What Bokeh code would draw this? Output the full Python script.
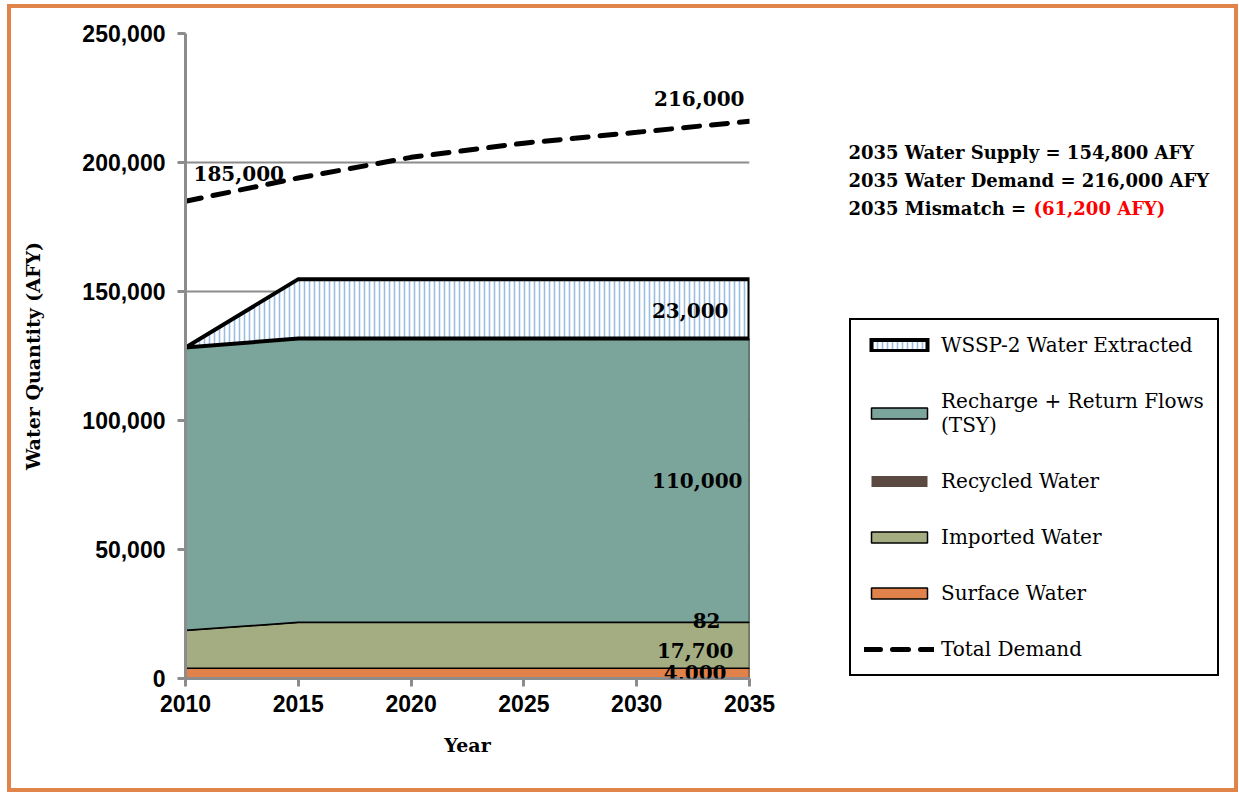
import numpy as np
from bokeh.plotting import figure
from bokeh.layouts import row
from bokeh.models import Range1d, NumeralTickFormatter, Legend, LegendItem, Label, FixedTicker
from bokeh.embed import file_html
from bokeh.resources import INLINE

# ---- data ----
years = [2010, 2015, 2020, 2025, 2030, 2035]
surface_water = [4000, 4000, 4000, 4000, 4000, 4000]
imported_water = [14600, 17700, 17700, 17700, 17700, 17700]
recycled_water = [82, 82, 82, 82, 82, 82]
recharge_tsy = [109600, 110000, 110000, 110000, 110000, 110000]
wssp2_extracted = [0, 23000, 23000, 23000, 23000, 23000]
total_demand = [185000, 194000, 202000, 207500, 211700, 216000]
y_ticks = [0, 50000, 100000, 150000, 200000, 250000]

series_names = ["Surface Water", "Imported Water", "Recycled Water",
                "Recharge + Return Flows\n(TSY)", "WSSP-2 Water Extracted"]
series_values = [surface_water, imported_water, recycled_water, recharge_tsy, wssp2_extracted]
series_colors = ["#E0824A", "#A4AC81", "#5B4A42", "#7BA59A", "white"]

# ---- layout constants (page px) ----
OX, OY = 11, 8            # inner top-left of the orange frame
SPLIT = 800               # where the right-hand panel starts
IW, IH = 1223, 780        # inner size
FL, FR, FT, FB = 185, 749, 33, 678

p = figure(width=SPLIT - OX, height=IH, x_range=Range1d(2010, 2035), y_range=Range1d(0, 250000),
           output_backend="svg", toolbar_location=None,
           min_border_left=FL - OX, min_border_right=SPLIT - FR,
           min_border_top=FT - OY, min_border_bottom=OY + IH - FB)
p.outline_line_color = None
p.background_fill_color = "white"
p.border_fill_color = "white"

# stacked areas
cum = np.zeros(len(years))
styles = {}
polys = {}
for name, vals, col in zip(series_names, series_values, series_colors):
    bottom = cum.copy()
    top = cum + np.array(vals, dtype=float)
    xs = list(years) + list(years[::-1])
    ys = list(top) + list(bottom[::-1])
    if name.startswith("WSSP"):
        st = dict(fill_color="white", line_color="black", line_width=4, line_join="miter",
                  hatch_pattern="vertical_line", hatch_color="#9DBDE0",
                  hatch_scale=5, hatch_weight=1.6)
    elif name.startswith("Recycled"):
        st = dict(fill_color=col, line_color=None)
    else:
        st = dict(fill_color=col, line_color="black", line_width=1.5)
    styles[name] = st
    polys[name] = (xs, ys)
    p.patch(xs, ys, **st)
    cum = top
supply = cum

dem_style = dict(line_color="black", line_width=5, line_dash="16 12", line_cap="round")
p.line(years, total_demand, **dem_style)

# axes
for ax in (p.xaxis[0], p.yaxis[0]):
    ax.axis_line_color = "#8C8C8C"
    ax.axis_line_width = 3
    ax.major_tick_line_color = "#8C8C8C"
    ax.major_tick_line_width = 3
    ax.major_tick_in = 0
    ax.major_tick_out = 8
    ax.minor_tick_line_color = None
    ax.major_label_text_font = "Liberation Sans"
    ax.major_label_text_font_style = "bold"
    ax.major_label_text_font_size = "23px"
    ax.major_label_text_color = "black"
    ax.axis_label_text_font = "DejaVu Serif"
    ax.axis_label_text_font_style = "bold"
    ax.axis_label_text_font_size = "19px"
    ax.axis_label_text_color = "black"

p.xaxis.ticker = FixedTicker(ticks=years)
p.yaxis.ticker = FixedTicker(ticks=y_ticks)
p.yaxis.formatter = NumeralTickFormatter(format="0,0")
p.xaxis.axis_label = "Year"
p.yaxis.axis_label = "Water Quantity (AFY)"
p.xaxis.major_label_standoff = 8
p.yaxis.major_label_standoff = 12
p.xaxis.axis_label_standoff = 19
p.yaxis.axis_label_standoff = 35
p.xgrid.visible = False
p.ygrid.grid_line_color = "#8C8C8C"
p.ygrid.grid_line_width = 2
p.ygrid.ticker = FixedTicker(ticks=y_ticks)

# value annotations
ann_font = dict(text_font="DejaVu Serif", text_font_style="bold", text_font_size="20px",
                text_color="black", text_baseline="middle")

def fmt(v):
    return f"{int(round(v)):,}"

i_last = len(years) - 1
p.add_layout(Label(x=years[-1], y=total_demand[-1], text=fmt(total_demand[-1]),
                   text_align="right", x_offset=-5, y_offset=23, **ann_font))
p.add_layout(Label(x=years[0], y=total_demand[0], text=fmt(total_demand[0]),
                   text_align="left", x_offset=8, y_offset=28, **ann_font))
cum = np.zeros(len(years))
mids = []
for vals in series_values:
    mids.append(cum[i_last] + vals[i_last] / 2)
    cum = cum + np.array(vals, dtype=float)
layer_offsets = [(-23, 1), (-16, -5), (-29, 2), (-7, 0), (-21, -2)]
for vals, mid, (xo, yo) in zip(series_values, mids, layer_offsets):
    p.add_layout(Label(x=years[-1], y=mid, text=fmt(vals[i_last]), text_align="right",
                       x_offset=xo, y_offset=yo, **ann_font))

# ---- right-hand panel: summary text and legend ----
# its frame shares the main plot's vertical extent (FT..FB); data units = px
RIGHT = OX + IW
q = figure(width=RIGHT - SPLIT, height=IH, x_range=Range1d(SPLIT, RIGHT),
           y_range=Range1d(0, FB - FT), x_axis_type=None, y_axis_type=None,
           output_backend="svg", toolbar_location=None,
           min_border_left=0, min_border_right=0,
           min_border_top=FT - OY, min_border_bottom=OY + IH - FB)
q.grid.visible = False
q.outline_line_color = None
q.background_fill_color = "white"
q.border_fill_color = "white"

def qy(py):
    # page px from top -> panel data units (px above the frame bottom)
    return FB - py

supply_2035 = int(round(supply[i_last] / 100.0) * 100)
demand_2035 = total_demand[-1]
mismatch = supply_2035 - demand_2035
side_font = dict(text_font="DejaVu Serif", text_font_style="bold", text_font_size="18px",
                 text_baseline="middle", text_align="left")
q.add_layout(Label(x=848, y=qy(152), text=f"2035 Water Supply = {supply_2035:,} AFY",
                   text_color="black", **side_font))
q.add_layout(Label(x=848, y=qy(180), text=f"2035 Water Demand = {demand_2035:,} AFY",
                   text_color="black", **side_font))
q.add_layout(Label(x=848, y=qy(208), text="2035 Mismatch = ", text_color="black", **side_font))
mm_text = f"({abs(mismatch):,} AFY)" if mismatch < 0 else f"{mismatch:,} AFY"
q.add_layout(Label(x=1033, y=qy(208), text=mm_text, text_color="#FF0000", **side_font))

# legend proxies: same series data (falls outside this panel's ranges, so only the legend shows)
items = []
for n in series_names[::-1]:
    xs, ys = polys[n]
    r = q.patch(xs, ys, **styles[n])
    items.append(LegendItem(label=n, renderers=[r]))
rd = q.line(years, total_demand, **dem_style)
items.append(LegendItem(label="Total Demand", renderers=[rd]))
legend = Legend(items=items, location=(849 - SPLIT, 2))
legend.border_line_color = "black"
legend.border_line_alpha = 1
legend.border_line_width = 2
legend.background_fill_color = "white"
legend.background_fill_alpha = 1
legend.label_text_font = "DejaVu Serif"
legend.label_text_font_size = "20px"
legend.label_text_color = "black"
legend.glyph_width = 70
legend.glyph_height = 14
legend.label_height = 20
legend.label_standoff = 7
legend.padding = 13
legend.spacing = 32
legend.margin = 0
q.add_layout(legend, "center")

layout = row(p, q, spacing=0,
             styles={"border": "4px solid #E0844A", "margin-left": f"{OX - 4}px",
                     "margin-top": f"{OY - 4}px", "background": "white"})

open("out.html", "w").write(file_html(layout, INLINE))
